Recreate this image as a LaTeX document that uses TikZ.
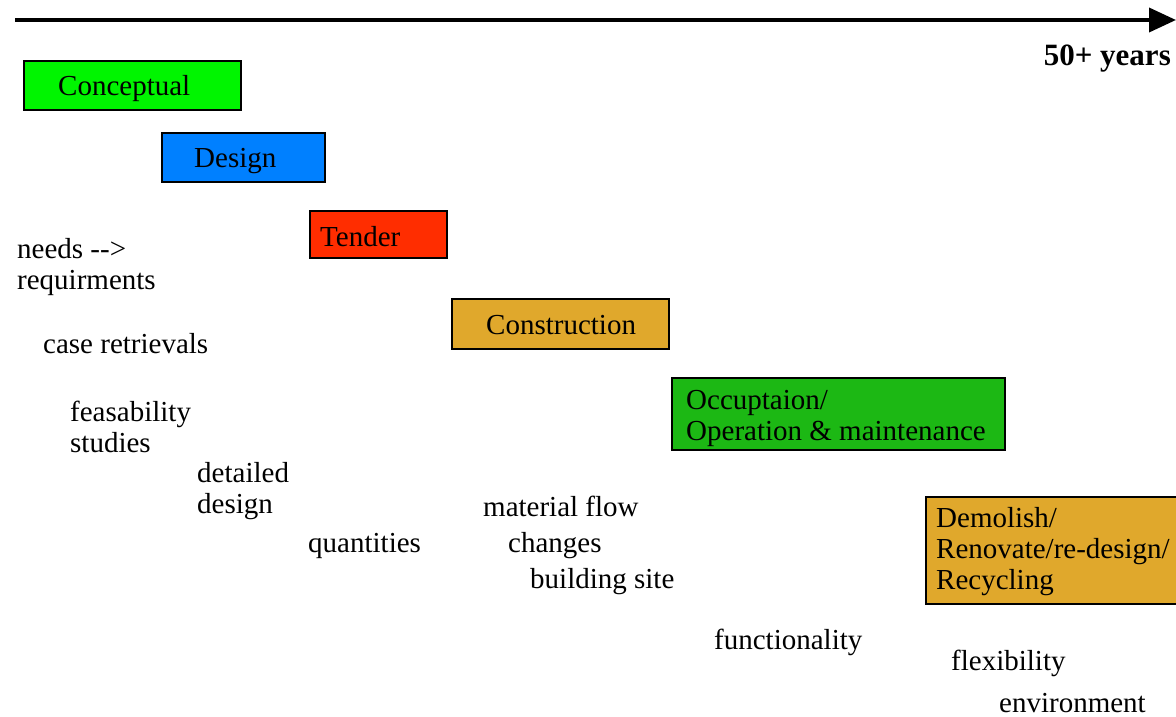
\documentclass[tikz,border=0pt]{standalone}
\usepackage{fontspec}
\setmainfont{Liberation Serif}
\usetikzlibrary{arrows.meta}
\definecolor{cgreen}{RGB}{0,245,0}
\definecolor{cblue}{RGB}{0,128,255}
\definecolor{cred}{RGB}{255,45,0}
\definecolor{cgold}{RGB}{224,168,44}
\definecolor{cdgreen}{RGB}{28,184,20}
\tikzset{
  phase/.style={draw=black, line width=1.6pt, inner sep=0pt},
  lbl/.style={anchor=west, inner sep=0pt, align=left, font=\fontsize{29}{31}\selectfont},
}
\begin{document}
\begin{tikzpicture}[x=1pt,y=-1pt]
\useasboundingbox (0,0) rectangle (1176,717);
% time axis
\coordinate (tstart) at (15,20);
\coordinate (tend) at (1176,20);
\draw[line width=3.8pt, -{Triangle[length=27pt,width=24pt]}] (tstart) -- (tend);
\node[anchor=east, inner sep=0pt, font=\fontsize{31}{33}\selectfont\bfseries] (years) at (1171,59) {50+ years};
% phase boxes
\node[phase, fill=cgreen, minimum width=217pt, minimum height=49pt] (concept) at (132.5,85.5) {};
\node[lbl] (conceptL) at (58,89) {Conceptual};
\node[phase, fill=cblue, minimum width=163pt, minimum height=49pt] (design) at (243.5,157.5) {};
\node[lbl] (designL) at (194,161) {Design};
\node[phase, fill=cred, minimum width=137pt, minimum height=47pt] (tender) at (378.5,234.5) {};
\node[lbl] (tenderL) at (320,237) {Tender};
\node[phase, fill=cgold, minimum width=217pt, minimum height=50pt] (constr) at (560.5,324) {};
\node[lbl] (constrL) at (486,325) {Construction};
\node[phase, fill=cdgreen, minimum width=333pt, minimum height=72pt] (occup) at (838.5,414) {};
\node[lbl] (occupL) at (686,418) {Occuptaion/\\Operation \& maintenance};
\node[phase, fill=cgold, minimum width=260pt, minimum height=107pt] (demol) at (1056,550.5) {};
\node[lbl] (demolL) at (936,552) {Demolish/\\Renovate/re-design/\\Recycling};
% aspects
\node[lbl] (needs) at (17,267) {needs -{}-\textgreater\\requirments};
\node[lbl] (cases) at (43,344) {case retrievals};
\node[lbl] (feas) at (70,427) {feasability\\studies};
\node[lbl] (detail) at (197,491) {detailed\\design};
\node[lbl] (quant) at (308,546) {quantities};
\node[lbl] (matflow) at (483,506) {material flow};
\node[lbl] (changes) at (508,546) {changes};
\node[lbl] (site) at (530,582) {building site};
\node[lbl] (func) at (714,642) {functionality};
\node[lbl] (flex) at (951,663) {flexibility};
\node[lbl] (env) at (999,703) {environment};
\end{tikzpicture}
\end{document}
